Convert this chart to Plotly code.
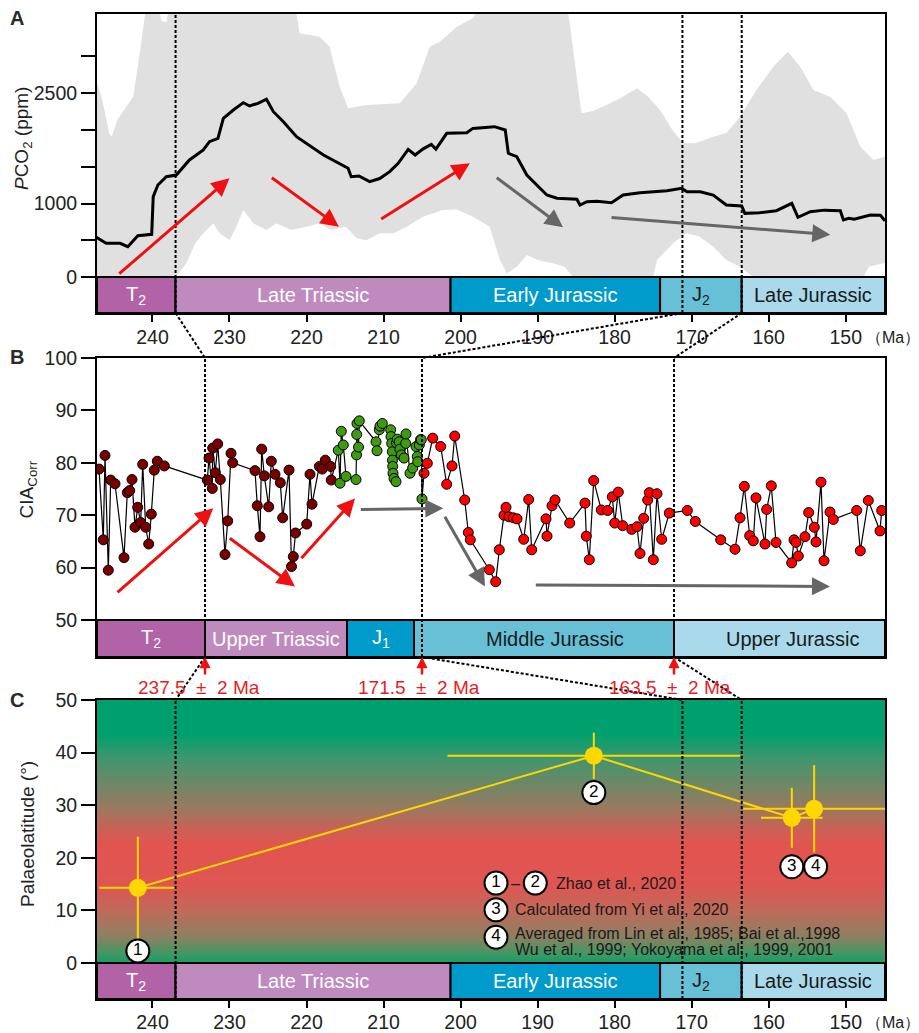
import numpy as np
import plotly.graph_objects as go

# ---------------- Panel A : pCO2 ----------------
co2_age = [247.3, 246.0, 244.2, 243.2, 241.9, 240.1, 239.9, 239.3, 238.2, 236.9, 235.2, 233.4, 232.6,
           231.5, 230.8, 229.5, 228.2, 227.4, 226.3, 225.2, 224.3, 223.0, 221.3, 220.0, 217.8, 214.6,
           214.2, 213.2, 211.8, 210.5, 209.2, 208.1, 206.8, 205.9, 204.9, 203.8, 203.2, 201.8, 199.2,
           198.4, 195.6, 194.2, 193.8, 192.7, 191.4, 188.8, 187.5, 184.9, 184.5, 183.6, 182.3, 180.4,
           178.9, 176.7, 173.2, 171.3, 170.6, 168.9, 167.2, 165.5, 163.5, 163.1, 161.2, 159.0, 157.0,
           156.2, 154.6, 152.8, 150.7, 150.3, 149.6, 148.9, 146.8, 145.5, 144.9]
co2_val = [540, 458, 458, 412, 562, 581, 1093, 1252, 1365, 1388, 1592, 1728, 1841,
           1886, 2158, 2272, 2372, 2327, 2363, 2418, 2249, 2113, 1909, 1819, 1660, 1479,
           1365, 1375, 1297, 1340, 1433, 1547, 1737, 1660, 1740, 1805, 1740, 1955, 1964,
           2022, 2045, 2000, 1683, 1637, 1388, 1116, 1071, 1057, 980, 1025, 1030, 1011,
           1116, 1147, 1175, 1206, 1161, 1161, 1115, 980, 966, 866, 875, 902, 1002,
           812, 889, 910, 902, 776, 800, 785, 844, 840, 766]

band_up_age = [247.2, 246.5, 245.6, 245.3, 244.5, 243.4, 242.5, 241.6, 240.8, 239.5, 238.8, 238.2,
               237.8, 236.0, 221.8, 221.3, 220.9, 218.3, 217.0, 215.7, 214.6, 212.2, 207.9, 205.7,
               204.0, 202.7, 200.5, 198.4, 197.5, 196.0, 186.5, 186.0, 184.3, 182.8, 179.7, 178.5,
               177.1, 175.6, 174.1, 172.5, 171.1, 169.5, 167.2, 165.5, 163.7, 161.6, 159.4, 157.5,
               155.9, 154.2, 152.0, 149.9, 148.1, 146.4, 145.1, 144.9]
band_up_val = [2650, 2400, 1950, 1909, 2150, 2317, 2453, 3080, 3700, 3800, 3480, 3470,
               3700, 4000, 4000, 3578, 3315, 3270, 3133, 2590, 2295, 2340, 2363, 2635,
               3133, 3200, 3405, 3520, 3700, 4000, 4000, 3578, 2227, 2260, 2408, 2480,
               2567, 2450, 2272, 2000, 1819, 1819, 1909, 1960, 2181, 2544, 2861, 3066,
               2861, 2544, 2450, 2227, 1773, 1592, 1637, 1640]
band_lo_age = [247.2, 237.0, 235.6, 234.5, 233.4, 232.1, 231.3, 230.0, 229.3, 228.2, 226.9, 225.2,
               223.9, 222.0, 220.0, 218.3, 216.8, 214.9, 213.5, 212.2, 210.5, 208.7, 207.0, 204.9,
               202.3, 200.5, 198.4, 196.2, 194.9, 194.0, 192.7, 191.4, 190.0, 188.0, 186.5, 185.4,
               175.0, 174.5, 172.4, 170.7, 169.0, 167.2, 165.5, 163.7, 162.0, 147.7, 147.0, 145.1, 144.9]
band_lo_val = [0, 0, 186, 450, 594, 730, 594, 503, 640, 912, 730, 640,
               730, 640, 685, 730, 640, 685, 526, 500, 594, 594, 685, 821,
               912, 920, 821, 685, 231, 50, 140, 300, 230, 186, 140, 0,
               0, 231, 458, 594, 550, 412, 231, 140, 0, 0, 140, 186, 186]

# trend arrows in A: (tail_age, tail_val, tip_age, tip_val)
a_red_arrows = [(244.5, 27, 230.0, 1343), (224.7, 1365, 215.8, 685), (210.5, 776, 198.8, 1547)]
a_grey_arrows = [(195.5, 1365, 186.7, 676), (180.6, 812, 152.0, 576)]

# ---------------- Panel B : CIAcorr (stratigraphic position) ----------------
b_dark_pos = [2, 6.3, 8, 11.3, 13.7, 18, 27, 30.3, 32.7, 35, 38, 40.7, 43.7, 45.7, 48.7, 51.7, 54.3,
              57.3, 60.3, 67.3, 110.3, 112, 115.3, 115.7, 118.3, 120.7, 123.3, 128, 130.7, 134, 135.7,
              158, 160.3, 163, 164.7, 167.3, 171.7, 174.3, 178, 183.3, 185.7, 192, 194.5, 196.3, 198.5,
              209.7, 213, 215, 222.3, 225.3, 228.3, 233.7, 234.3]
b_dark_cia = [78.8, 65.3, 81.4, 59.5, 76.7, 76.0, 61.9, 74.3, 74.7, 76.8, 67.7, 71.5, 68.6, 79.7, 67.7,
              64.5, 70.2, 78.6, 80.3, 79.4, 76.7, 80.9, 75.1, 82.8, 78.1, 83.6, 76.8, 62.5, 68.9, 81.8,
              80.0, 78.5, 71.8, 65.9, 82.6, 77.5, 71.6, 80.3, 77.8, 76.2, 69.5, 78.6, 60.2, 62.1, 66.6,
              68.3, 77.8, 72.1, 79.3, 78.8, 80.5, 79.3, 76.7]
b_green_pos = [241.3, 243, 244.3, 246.3, 249, 259, 259.5, 259.7, 260, 261.5, 262.3, 279, 280, 282.3,
               283, 285.3, 293.7, 294, 294.7, 295.3, 295.5, 295.7, 296, 297, 299, 299.5, 300.3, 302.3,
               303, 304.3, 307, 308.7, 309, 313, 315.7, 319, 320.3, 320.7, 322.3, 323.5, 324.3, 325]
b_green_cia = [82.4, 76.1, 86.0, 83.4, 77.4, 76.8, 81.5, 85.4, 87.5, 83.0, 88.0, 84.0, 82.3, 86.3,
               87.0, 87.5, 86.3, 85.0, 83.7, 82.1, 80.5, 79.3, 78.0, 77.0, 76.4, 83.8, 84.5, 84.0,
               82.6, 81.5, 80.9, 83.7, 85.5, 78.0, 79.0, 83.1, 81.2, 80.2, 83.4, 84.4, 84.4, 73.1]
b_red_pos = [327, 330.3, 335.7, 343.7, 349.7, 355, 357.7, 367.7, 371.3, 373.3, 392.3, 398.7, 402.3,
             407, 409, 412, 416.3, 420, 426.7, 431.7, 434.7, 449, 450, 455, 458, 472.7, 488, 489.3,
             492.3, 496.7, 504.3, 510.7, 515.3, 517.7, 521.3, 525.7, 534.7, 540, 543, 546.7, 550.7,
             552.3, 556.3, 560, 564.7, 572.3, 590.3, 598.3, 623.7, 638, 643, 647.3, 652.7, 656.3,
             659, 668, 669.7, 674.3, 679, 694.7, 697, 699, 701.3, 708, 711.7, 717.3, 719, 724, 727,
             733, 736.3, 759.7, 763.3, 771.3, 783, 784.7]
b_red_cia = [78.0, 79.9, 84.7, 83.1, 75.9, 79.4, 85.1, 72.9, 66.7, 65.3, 59.6, 57.3, 63.4,
             70.0, 71.5, 69.7, 69.5, 69.3, 65.4, 73.0, 63.4, 69.3, 66.0, 71.8, 72.9, 68.5, 72.3, 66.0,
             61.5, 76.6, 71.0, 70.9, 73.5, 68.5, 74.4, 68.0, 67.3, 67.8, 62.7, 69.4, 72.9,
             74.3, 61.5, 74.1, 65.4, 70.4, 70.9, 68.8, 65.3, 63.5, 69.5, 75.5, 66.1, 65.1,
             73.3, 64.5, 71.1, 75.6, 64.8, 60.9, 65.3, 64.8, 62.2, 65.9, 70.5, 67.7, 64.9, 76.3, 61.3,
             70.6, 69.2, 70.9, 63.2, 72.8, 67.0, 70.9]

b_red_arrows = [(19, 55.0, 116.3, 71.3), (131.3, 65.8, 198, 56.4), (203, 61.5, 258, 73.2)]
b_grey_arrows = [(262.3, 71.1, 346.3, 71.3), (347, 70.0, 388, 56.4), (437.3, 56.7, 733, 56.4)]

# ---------------- Panel C : palaeolatitude ----------------
lat_age = [241.9, 182.7, 157.0, 154.1]
lat_val = [14.3, 39.4, 27.6, 29.3]
lat_age_err = [5.0, 19.0, 4.0, 9.2]
lat_val_err = [9.7, 4.4, 5.7, 8.3]
lat_labels = ["1", "2", "3", "4"]
lat_label_age = [241.9, 182.7, 157.0, 153.9]
lat_label_val = [2.3, 32.4, 18.3, 18.3]

# ---------------- Time scales ----------------
ts_names = ["T<sub>2</sub>", "Late Triassic", "Early Jurassic", "J<sub>2</sub>", "Late Jurassic"]
ts_bounds = [247.2, 237.0, 201.3, 174.1, 163.5, 144.9]
ts_colors = ["#b263a7", "#bf8bbf", "#009bcb", "#67c0d5", "#a9d9ea"]
ts_text = ["white", "white", "white", "#1a1a1a", "#1a1a1a"]

tsb_names = ["T<sub>2</sub>", "Upper Triassic", "J<sub>1</sub>", "Middle Jurassic", "Upper Jurassic"]
tsb_bounds = [0, 108, 250, 317, 577, 788]
tsb_label_pos = [54, 179, 283.5, 458, 695]
tsb_colors = ["#b263a7", "#bf8bbf", "#009bcb", "#67c0d5", "#a9d9ea"]
tsb_text = ["white", "white", "white", "#1a1a1a", "#1a1a1a"]

tie_ages = [237.0, 171.2, 163.5]        # dashed lines in A and C
tie_pos = [108, 325, 577]               # dashed lines in B
NB = "\u00a0"
tie_labels = ["237.5" + NB * 2 + "±" + NB * 2 + "2 Ma", "171.5" + NB * 2 + "±" + NB * 2 + "2 Ma",
              "163.5" + NB * 2 + "±" + NB * 2 + "2 Ma"]
tie_label_pos = [102, 322, 573]

age_ticks = [240, 230, 220, 210, 200, 190, 180, 170, 160, 150]

# ---------------- geometry ----------------
XR = [247.2, 144.9]
BXR = [0, 788]
A_DOM = [0.6964, 1.0]
B_DOM = [0.3472, 0.6508]
C_DOM = [0.0, 0.3036]
A_YR = [-490, 3578]
B_YR = [42.94, 100]
C_YR = [-6.84, 50.0]
FONT = "Liberation Sans, Arial, sans-serif"


def age2paper(a):
    return (XR[0] - a) / (XR[0] - XR[1])


def pos2paper(p):
    return (p - BXR[0]) / (BXR[1] - BXR[0])


fig = go.Figure()

# Panel A
fig.add_trace(go.Scatter(x=band_up_age + band_lo_age[::-1], y=band_up_val + band_lo_val[::-1],
                         fill="toself", fillcolor="#e0e0e0", mode="lines", line=dict(width=0),
                         xaxis="x", yaxis="y", hoverinfo="skip"))
fig.add_trace(go.Scatter(x=co2_age, y=co2_val, mode="lines", line=dict(color="black", width=3),
                         xaxis="x", yaxis="y"))

# Panel B
all_pos = b_dark_pos + b_green_pos + b_red_pos
all_cia = b_dark_cia + b_green_cia + b_red_cia
fig.add_trace(go.Scatter(x=all_pos, y=all_cia, mode="lines", line=dict(color="black", width=1.2),
                         xaxis="x2", yaxis="y2"))
for px_, py_, col in [(b_dark_pos, b_dark_cia, "#7a0000"), (b_green_pos, b_green_cia, "#3f9a12"),
                      (b_red_pos, b_red_cia, "#ff0000")]:
    fig.add_trace(go.Scatter(x=px_, y=py_, mode="markers",
                             marker=dict(color=col, size=10, line=dict(color="black", width=1)),
                             xaxis="x2", yaxis="y2"))

# Panel C background gradient
gy = np.arange(0, 50.01, 0.5)
cs = [[0.0, "rgb(20,158,104)"], [0.04, "rgb(70,150,100)"], [0.10, "rgb(140,128,98)"],
      [0.20, "rgb(192,106,90)"], [0.30, "rgb(222,86,82)"], [0.44, "rgb(226,84,80)"],
      [0.50, "rgb(208,94,85)"], [0.60, "rgb(148,124,97)"], [0.78, "rgb(62,150,110)"],
      [0.87, "rgb(0,160,110)"], [1.0, "rgb(0,160,110)"]]
fig.add_trace(go.Heatmap(x=[250, 140], y=gy, z=[[v, v] for v in gy], colorscale=cs, zmin=0, zmax=50,
                         showscale=False, hoverinfo="skip", xaxis="x3", yaxis="y3"))
fig.add_trace(go.Scatter(x=lat_age, y=lat_val, mode="lines+markers",
                         line=dict(color="#ffd700", width=2),
                         marker=dict(color="#ffd700", size=18),
                         error_x=dict(type="data", array=lat_age_err, color="#ffd700", thickness=2, width=0),
                         error_y=dict(type="data", array=lat_val_err, color="#ffd700", thickness=2, width=0),
                         xaxis="x3", yaxis="y3"))
circ = dict(symbol="circle", size=23, color="white", line=dict(color="black", width=2))
fig.add_trace(go.Scatter(x=lat_label_age, y=lat_label_val, mode="markers+text", text=lat_labels,
                         textposition="middle center", marker=circ,
                         textfont=dict(family=FONT, size=17, color="black"),
                         xaxis="x3", yaxis="y3"))
# legend symbols
leg_age = [195.4, 190.3, 195.4, 195.4]
leg_lat = [15.2, 15.2, 10.1, 4.9]
fig.add_trace(go.Scatter(x=leg_age, y=leg_lat, mode="markers+text", text=lat_labels,
                         textposition="middle center", marker=circ,
                         textfont=dict(family=FONT, size=17, color="black"),
                         xaxis="x3", yaxis="y3"))

shapes = []
annotations = []

# time-scale bars
for xref, yref, yr in [("x", "y", A_YR), ("x3", "y3", C_YR)]:
    for i, nm in enumerate(ts_names):
        shapes.append(dict(type="rect", xref=xref, yref=yref, x0=ts_bounds[i], x1=ts_bounds[i + 1],
                           y0=yr[0], y1=0, fillcolor=ts_colors[i], line=dict(color="black", width=2),
                           layer="above"))
        annotations.append(dict(xref=xref, yref=yref, x=(ts_bounds[i] + ts_bounds[i + 1]) / 2,
                                y=yr[0] / 2, text=nm, showarrow=False,
                                font=dict(family=FONT, size=20, color=ts_text[i])))
for i, nm in enumerate(tsb_names):
    shapes.append(dict(type="rect", xref="x2", yref="y2", x0=tsb_bounds[i], x1=tsb_bounds[i + 1],
                       y0=B_YR[0], y1=50, fillcolor=tsb_colors[i], line=dict(color="black", width=2),
                       layer="above"))
    annotations.append(dict(xref="x2", yref="y2", x=tsb_label_pos[i], y=(B_YR[0] + 50) / 2, text=nm,
                            showarrow=False, font=dict(family=FONT, size=20, color=tsb_text[i])))

dash = dict(color="black", width=2, dash="3px,2px")
# vertical dashed lines
for a in tie_ages:
    shapes.append(dict(type="line", xref="x", yref="paper", x0=a, x1=a, y0=A_DOM[0], y1=A_DOM[1],
                       line=dash, layer="above"))
    shapes.append(dict(type="line", xref="x3", yref="paper", x0=a, x1=a, y0=C_DOM[0], y1=C_DOM[1],
                       line=dash, layer="above"))
for p in tie_pos:
    shapes.append(dict(type="line", xref="x2", yref="paper", x0=p, x1=p, y0=B_DOM[0], y1=B_DOM[1],
                       line=dash, layer="above"))
# connectors
for a, p in zip(tie_ages, tie_pos):
    shapes.append(dict(type="line", xref="paper", yref="paper", x0=age2paper(a), y0=A_DOM[0],
                       x1=pos2paper(p), y1=B_DOM[1], line=dash))
    shapes.append(dict(type="line", xref="paper", yref="paper", x0=pos2paper(p), y0=B_DOM[0],
                       x1=age2paper(a), y1=C_DOM[1], line=dash))

# trend arrows
for arrows, col, xr, yr in [(a_red_arrows, "#ee1111", "x", "y"), (a_grey_arrows, "#666666", "x", "y"),
                            (b_red_arrows, "#ee1111", "x2", "y2"), (b_grey_arrows, "#666666", "x2", "y2")]:
    for (ta, tv, ha, hv) in arrows:
        annotations.append(dict(xref=xr, yref=yr, axref=xr, ayref=yr, x=ha, y=hv, ax=ta, ay=tv,
                                text="", showarrow=True, arrowhead=2, arrowsize=1.2, arrowwidth=3,
                                arrowcolor=col, standoff=0, startstandoff=0))

# tie-point red arrows and labels
for p, lab, lp in zip(tie_pos, tie_labels, tie_label_pos):
    annotations.append(dict(xref="x2", yref="paper", x=p, y=B_DOM[0], ax=0, ay=19, text="",
                            showarrow=True, arrowhead=2, arrowsize=0.9, arrowwidth=2.5,
                            arrowcolor="#ee1111", standoff=0))
    annotations.append(dict(xref="x2", yref="paper", x=lp, y=0.3158, text=lab, showarrow=False,
                            xanchor="center", yanchor="middle",
                            font=dict(family=FONT, size=19, color="#e41e26")))

# legend text
leg_txt = [(187.85, 15.2, "Zhao et al., 2020"), (193.2, 10.1, "Calculated from Yi et al., 2020"),
           (193.2, 5.7, "Averaged from Lin et al., 1985; Bai et al.,1998"),
           (193.2, 2.5, "Wu et al., 1999; Yokoyama et al., 1999, 2001")]
for x_, y_, t_ in leg_txt:
    annotations.append(dict(xref="x3", yref="y3", x=x_, y=y_, text=t_, showarrow=False, xanchor="left",
                            font=dict(family=FONT, size=16, color="#1a1a1a")))
annotations.append(dict(xref="x3", yref="y3", x=192.85, y=15.2, text="–", showarrow=False,
                        font=dict(family=FONT, size=16, color="#1a1a1a")))

# axis titles & panel letters
ttl = dict(xref="paper", yref="paper", textangle=-90, showarrow=False, xanchor="center", yanchor="middle",
           font=dict(family=FONT, size=19, color="#222"))
let = dict(xref="paper", yref="paper", showarrow=False, xanchor="center", yanchor="middle",
           font=dict(family=FONT, size=20, color="#2a2a2a"))
annotations += [
    dict(x=-0.094, y=0.874, text="<i>P</i>CO<sub>2</sub> (ppm)", **ttl),
    dict(x=-0.087, y=0.5178, text="CIA<sub>Corr</sub>", **ttl),
    dict(x=-0.089, y=0.1675, text="Palaeolatitude (°)", **ttl),
    dict(x=-0.1015, y=0.996, text="<b>A</b>", **let),
    dict(x=-0.1015, y=0.652, text="<b>B</b>", **let),
    dict(x=-0.1015, y=0.3036, text="<b>C</b>", **let),
    dict(xref="paper", yref="paper", x=0.9735, y=0.672, text="（Ma）", showarrow=False, xanchor="left",
         yanchor="middle", font=dict(family=FONT, size=16, color="#222")),
    dict(xref="paper", yref="paper", x=0.9735, y=-0.0234, text="（Ma）", showarrow=False, xanchor="left",
         yanchor="middle", font=dict(family=FONT, size=16, color="#222")),
]

axis_common = dict(showline=True, linewidth=2, linecolor="black", mirror=True, showgrid=False,
                   zeroline=False, tickcolor="black", tickwidth=2, automargin=False,
                   tickfont=dict(family=FONT, size=19.5, color="#222"))

# page body has an 8 px margin: size/margins chosen so the plot box lands where the reference has it
fig.update_layout(
    width=911, height=1025, margin=dict(l=89, r=34, t=6, b=34, autoexpand=False),
    paper_bgcolor="white", plot_bgcolor="white", showlegend=False,
    xaxis=dict(domain=[0, 1], anchor="y", range=XR, tickvals=age_ticks, ticks="outside", ticklen=7,
               ticklabelstandoff=-1, **axis_common),
    yaxis=dict(domain=A_DOM, anchor="x", range=A_YR, tickvals=[0, 500, 1000, 1500, 2000, 2500, 3000],
               ticktext=["0", "", "1000", "", "", "2500", ""], ticks="outside", ticklen=14, **axis_common),
    xaxis2=dict(domain=[0, 1], anchor="y2", range=BXR, showticklabels=False, ticks="", **axis_common),
    yaxis2=dict(domain=B_DOM, anchor="x2", range=B_YR, tickvals=[50, 60, 70, 80, 90, 100],
                ticks="outside", ticklen=14, **axis_common),
    xaxis3=dict(domain=[0, 1], anchor="y3", range=XR, tickvals=age_ticks, ticks="outside", ticklen=7,
                ticklabelstandoff=-2, **axis_common),
    yaxis3=dict(domain=C_DOM, anchor="x3", range=C_YR, tickvals=[0, 10, 20, 30, 40, 50],
                ticks="outside", ticklen=14, **axis_common),
    shapes=shapes, annotations=annotations,
)

fig.write_html("out.html")
